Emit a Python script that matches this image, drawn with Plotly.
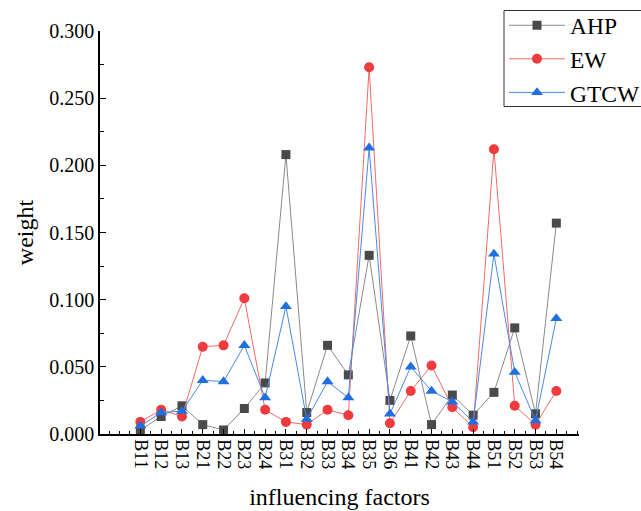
import plotly.graph_objects as go

factors = ["B11", "B12", "B13", "B21", "B22", "B23", "B24", "B31", "B32", "B33", "B34",
           "B35", "B36", "B41", "B42", "B43", "B44", "B51", "B52", "B53", "B54"]
ahp = [0.003, 0.013, 0.021, 0.007, 0.003, 0.019, 0.038, 0.208, 0.016, 0.066, 0.044,
       0.133, 0.025, 0.073, 0.007, 0.029, 0.014, 0.031, 0.079, 0.015, 0.157]
ew = [0.009, 0.018, 0.013, 0.065, 0.066, 0.101, 0.018, 0.009, 0.007, 0.018, 0.014,
      0.273, 0.008, 0.032, 0.051, 0.020, 0.005, 0.212, 0.021, 0.007, 0.032]
gtcw = [0.006, 0.016, 0.017, 0.040, 0.039, 0.066, 0.027, 0.095, 0.011, 0.039, 0.027,
        0.213, 0.015, 0.050, 0.032, 0.024, 0.009, 0.134, 0.046, 0.010, 0.086]
y_ticks = [0.0, 0.05, 0.10, 0.15, 0.20, 0.25, 0.30]

xpos = list(range(len(factors)))
FONT = "Liberation Serif"

fig = go.Figure()
series = [
    ("AHP", ahp, "#8a8a8a", "#4a4a4a", "square", 9),
    ("EW", ew, "#f26a6a", "#ef3b3d", "circle", 10),
    ("GTCW", gtcw, "#4a8ae8", "#1f6fe0", "triangle-up", 10.5),
]
for name, vals, lc, mc, sym, ms in series:
    fig.add_trace(go.Scatter(
        x=xpos, y=vals, name=name, mode="lines+markers",
        line=dict(color=lc, width=1),
        marker=dict(symbol=sym, size=ms, color=mc, line=dict(width=0)),
    ))

# legend frame drawn as a shape so its box matches the reference
fig.add_shape(type="rect", xref="paper", yref="paper",
              x0=(504 - 100) / 479, x1=(760 - 100) / 479,
              y0=(434 - 106.5) / 403, y1=(434 - 10.5) / 403,
              line=dict(color="#333333", width=1), fillcolor="rgba(0,0,0,0)")

fig.update_layout(
    width=641, height=511,
    paper_bgcolor="white", plot_bgcolor="white",
    margin=dict(l=100, r=62, t=31, b=77, autoexpand=False),
    font=dict(family=FONT, color="black"),
    showlegend=True,
    legend=dict(
        x=(504 - 100) / 479, y=(434 - 3.5) / 403, xanchor="left", yanchor="top",
        borderwidth=0, bgcolor="rgba(255,255,255,0)",
        font=dict(family=FONT, size=23.5, color="black"),
        itemwidth=56, tracegroupgap=0,
    ),
    xaxis=dict(
        range=[-1.94, 21.09],
        tickmode="array", tickvals=xpos, ticktext=factors,
        tickangle=90, ticks="inside", ticklen=5, tickwidth=1, tickcolor="black",
        tickfont=dict(family=FONT, size=18),
        minor=dict(ticks="inside", dtick=0.5, tick0=0, ticklen=3, tickwidth=1, tickcolor="black"),
        showline=True, linecolor="black", linewidth=1.5,
        showgrid=False, zeroline=False,
        title=dict(text="influencing factors", font=dict(family=FONT, size=24), standoff=20),
    ),
    yaxis=dict(
        range=[0, 0.3],
        tickmode="array", tickvals=y_ticks, ticktext=[f"{v:.3f}" for v in y_ticks],
        ticks="inside", ticklen=6, tickwidth=1, tickcolor="black",
        tickfont=dict(family=FONT, size=20),
        minor=dict(ticks="inside", dtick=0.025, tick0=0, ticklen=4, tickwidth=1, tickcolor="black"),
        showline=True, linecolor="black", linewidth=1.5,
        showgrid=False, zeroline=False,
        title=dict(text="weight", font=dict(family=FONT, size=24), standoff=9),
    ),
)

fig.write_html("out.html", config={"displayModeBar": False},
               post_script="document.body.style.margin='0';")
